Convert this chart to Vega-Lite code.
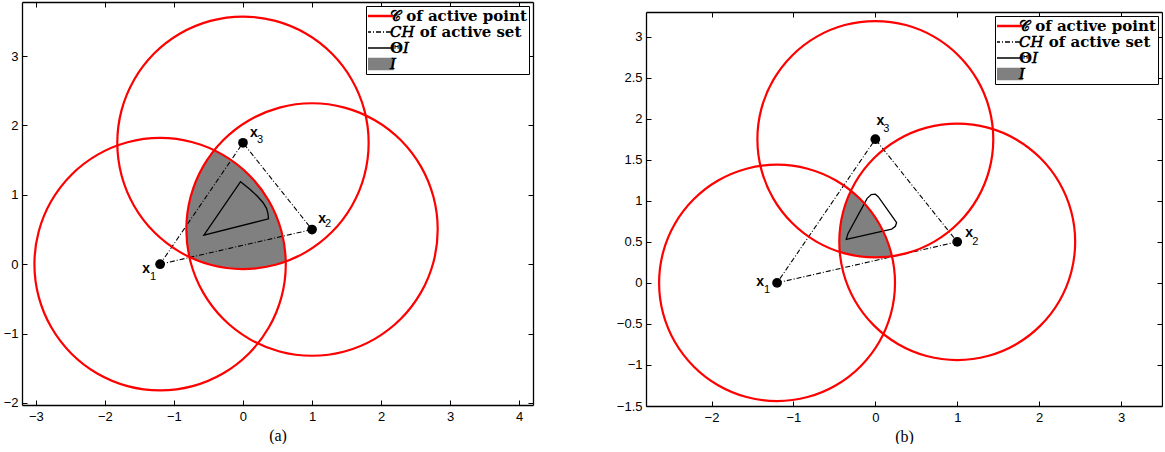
{
"$schema":"https://vega.github.io/schema/vega-lite/v6.json",
"background":"white",
"padding":{"left":3,"top":1,"right":0,"bottom":0},
"spacing":82,
"datasets":{
"pts":[{"n":1,"x":-1.2,"y":0},{"n":2,"x":1,"y":0.5},{"n":3,"x":0,"y":1.75}],
"circA":[
{"c":1,"i":0,"x":0.62,"y":0},{"c":1,"i":1,"x":0.558,"y":0.471},{"c":1,"i":2,"x":0.376,"y":0.91},{"c":1,"i":3,"x":0.087,"y":1.287},{"c":1,"i":4,"x":-0.29,"y":1.576},{"c":1,"i":5,"x":-0.729,"y":1.758},{"c":1,"i":6,"x":-1.2,"y":1.82},{"c":1,"i":7,"x":-1.671,"y":1.758},{"c":1,"i":8,"x":-2.11,"y":1.576},{"c":1,"i":9,"x":-2.487,"y":1.287},{"c":1,"i":10,"x":-2.776,"y":0.91},{"c":1,"i":11,"x":-2.958,"y":0.471},{"c":1,"i":12,"x":-3.02,"y":0},{"c":1,"i":13,"x":-2.958,"y":-0.471},{"c":1,"i":14,"x":-2.776,"y":-0.91},{"c":1,"i":15,"x":-2.487,"y":-1.287},{"c":1,"i":16,"x":-2.11,"y":-1.576},{"c":1,"i":17,"x":-1.671,"y":-1.758},{"c":1,"i":18,"x":-1.2,"y":-1.82},{"c":1,"i":19,"x":-0.729,"y":-1.758},{"c":1,"i":20,"x":-0.29,"y":-1.576},{"c":1,"i":21,"x":0.087,"y":-1.287},{"c":1,"i":22,"x":0.376,"y":-0.91},{"c":1,"i":23,"x":0.558,"y":-0.471},
{"c":2,"i":0,"x":2.82,"y":0.5},{"c":2,"i":1,"x":2.758,"y":0.971},{"c":2,"i":2,"x":2.576,"y":1.41},{"c":2,"i":3,"x":2.287,"y":1.787},{"c":2,"i":4,"x":1.91,"y":2.076},{"c":2,"i":5,"x":1.471,"y":2.258},{"c":2,"i":6,"x":1,"y":2.32},{"c":2,"i":7,"x":0.529,"y":2.258},{"c":2,"i":8,"x":0.09,"y":2.076},{"c":2,"i":9,"x":-0.287,"y":1.787},{"c":2,"i":10,"x":-0.576,"y":1.41},{"c":2,"i":11,"x":-0.758,"y":0.971},{"c":2,"i":12,"x":-0.82,"y":0.5},{"c":2,"i":13,"x":-0.758,"y":0.029},{"c":2,"i":14,"x":-0.576,"y":-0.41},{"c":2,"i":15,"x":-0.287,"y":-0.787},{"c":2,"i":16,"x":0.09,"y":-1.076},{"c":2,"i":17,"x":0.529,"y":-1.258},{"c":2,"i":18,"x":1,"y":-1.32},{"c":2,"i":19,"x":1.471,"y":-1.258},{"c":2,"i":20,"x":1.91,"y":-1.076},{"c":2,"i":21,"x":2.287,"y":-0.787},{"c":2,"i":22,"x":2.576,"y":-0.41},{"c":2,"i":23,"x":2.758,"y":0.029},
{"c":3,"i":0,"x":1.82,"y":1.75},{"c":3,"i":1,"x":1.758,"y":2.221},{"c":3,"i":2,"x":1.576,"y":2.66},{"c":3,"i":3,"x":1.287,"y":3.037},{"c":3,"i":4,"x":0.91,"y":3.326},{"c":3,"i":5,"x":0.471,"y":3.508},{"c":3,"i":6,"x":0,"y":3.57},{"c":3,"i":7,"x":-0.471,"y":3.508},{"c":3,"i":8,"x":-0.91,"y":3.326},{"c":3,"i":9,"x":-1.287,"y":3.037},{"c":3,"i":10,"x":-1.576,"y":2.66},{"c":3,"i":11,"x":-1.758,"y":2.221},{"c":3,"i":12,"x":-1.82,"y":1.75},{"c":3,"i":13,"x":-1.758,"y":1.279},{"c":3,"i":14,"x":-1.576,"y":0.84},{"c":3,"i":15,"x":-1.287,"y":0.463},{"c":3,"i":16,"x":-0.91,"y":0.174},{"c":3,"i":17,"x":-0.471,"y":-0.008},{"c":3,"i":18,"x":0,"y":-0.07},{"c":3,"i":19,"x":0.471,"y":-0.008},{"c":3,"i":20,"x":0.91,"y":0.174},{"c":3,"i":21,"x":1.287,"y":0.463},{"c":3,"i":22,"x":1.576,"y":0.84},{"c":3,"i":23,"x":1.758,"y":1.279}],
"circB":[
{"c":1,"i":0,"x":0.24,"y":0},{"c":1,"i":1,"x":0.191,"y":0.373},{"c":1,"i":2,"x":0.047,"y":0.72},{"c":1,"i":3,"x":-0.182,"y":1.018},{"c":1,"i":4,"x":-0.48,"y":1.247},{"c":1,"i":5,"x":-0.827,"y":1.391},{"c":1,"i":6,"x":-1.2,"y":1.44},{"c":1,"i":7,"x":-1.573,"y":1.391},{"c":1,"i":8,"x":-1.92,"y":1.247},{"c":1,"i":9,"x":-2.218,"y":1.018},{"c":1,"i":10,"x":-2.447,"y":0.72},{"c":1,"i":11,"x":-2.591,"y":0.373},{"c":1,"i":12,"x":-2.64,"y":0},{"c":1,"i":13,"x":-2.591,"y":-0.373},{"c":1,"i":14,"x":-2.447,"y":-0.72},{"c":1,"i":15,"x":-2.218,"y":-1.018},{"c":1,"i":16,"x":-1.92,"y":-1.247},{"c":1,"i":17,"x":-1.573,"y":-1.391},{"c":1,"i":18,"x":-1.2,"y":-1.44},{"c":1,"i":19,"x":-0.827,"y":-1.391},{"c":1,"i":20,"x":-0.48,"y":-1.247},{"c":1,"i":21,"x":-0.182,"y":-1.018},{"c":1,"i":22,"x":0.047,"y":-0.72},{"c":1,"i":23,"x":0.191,"y":-0.373},
{"c":2,"i":0,"x":2.44,"y":0.5},{"c":2,"i":1,"x":2.391,"y":0.873},{"c":2,"i":2,"x":2.247,"y":1.22},{"c":2,"i":3,"x":2.018,"y":1.518},{"c":2,"i":4,"x":1.72,"y":1.747},{"c":2,"i":5,"x":1.373,"y":1.891},{"c":2,"i":6,"x":1,"y":1.94},{"c":2,"i":7,"x":0.627,"y":1.891},{"c":2,"i":8,"x":0.28,"y":1.747},{"c":2,"i":9,"x":-0.018,"y":1.518},{"c":2,"i":10,"x":-0.247,"y":1.22},{"c":2,"i":11,"x":-0.391,"y":0.873},{"c":2,"i":12,"x":-0.44,"y":0.5},{"c":2,"i":13,"x":-0.391,"y":0.127},{"c":2,"i":14,"x":-0.247,"y":-0.22},{"c":2,"i":15,"x":-0.018,"y":-0.518},{"c":2,"i":16,"x":0.28,"y":-0.747},{"c":2,"i":17,"x":0.627,"y":-0.891},{"c":2,"i":18,"x":1,"y":-0.94},{"c":2,"i":19,"x":1.373,"y":-0.891},{"c":2,"i":20,"x":1.72,"y":-0.747},{"c":2,"i":21,"x":2.018,"y":-0.518},{"c":2,"i":22,"x":2.247,"y":-0.22},{"c":2,"i":23,"x":2.391,"y":0.127},
{"c":3,"i":0,"x":1.44,"y":1.75},{"c":3,"i":1,"x":1.391,"y":2.123},{"c":3,"i":2,"x":1.247,"y":2.47},{"c":3,"i":3,"x":1.018,"y":2.768},{"c":3,"i":4,"x":0.72,"y":2.997},{"c":3,"i":5,"x":0.373,"y":3.141},{"c":3,"i":6,"x":0,"y":3.19},{"c":3,"i":7,"x":-0.373,"y":3.141},{"c":3,"i":8,"x":-0.72,"y":2.997},{"c":3,"i":9,"x":-1.018,"y":2.768},{"c":3,"i":10,"x":-1.247,"y":2.47},{"c":3,"i":11,"x":-1.391,"y":2.123},{"c":3,"i":12,"x":-1.44,"y":1.75},{"c":3,"i":13,"x":-1.391,"y":1.377},{"c":3,"i":14,"x":-1.247,"y":1.03},{"c":3,"i":15,"x":-1.018,"y":0.732},{"c":3,"i":16,"x":-0.72,"y":0.503},{"c":3,"i":17,"x":-0.373,"y":0.359},{"c":3,"i":18,"x":0,"y":0.31},{"c":3,"i":19,"x":0.373,"y":0.359},{"c":3,"i":20,"x":0.72,"y":0.503},{"c":3,"i":21,"x":1.018,"y":0.732},{"c":3,"i":22,"x":1.247,"y":1.03},{"c":3,"i":23,"x":1.391,"y":1.377}],
"regA":[{"i":0,"x":-0.776,"y":0.104},{"i":1,"x":-0.792,"y":0.184},{"i":2,"x":-0.82,"y":0.5},{"i":3,"x":-0.792,"y":0.816},{"i":4,"x":-0.71,"y":1.123},{"i":5,"x":-0.576,"y":1.41},{"i":6,"x":-0.417,"y":1.643},{"i":7,"x":-0.29,"y":1.576},{"i":8,"x":-0.03,"y":1.394},{"i":9,"x":0.194,"y":1.17},{"i":10,"x":0.376,"y":0.91},{"i":11,"x":0.51,"y":0.623},{"i":12,"x":0.592,"y":0.316},{"i":13,"x":0.62,"y":0.039},{"i":14,"x":0.316,"y":-0.042},{"i":15,"x":0,"y":-0.07},{"i":16,"x":-0.316,"y":-0.042},{"i":17,"x":-0.623,"y":0.04}],
"regB":[{"i":0,"x":-0.435,"y":0.377},{"i":1,"x":-0.44,"y":0.5},{"i":2,"x":-0.418,"y":0.75},{"i":3,"x":-0.353,"y":0.993},{"i":4,"x":-0.298,"y":1.123},{"i":5,"x":-0.182,"y":1.018},{"i":6,"x":-0.02,"y":0.826},{"i":7,"x":0.105,"y":0.609},{"i":8,"x":0.191,"y":0.373},{"i":9,"x":0.203,"y":0.324},{"i":10,"x":0.1,"y":0.313},{"i":11,"x":0,"y":0.31},{"i":12,"x":-0.25,"y":0.332}],
"thA":[{"i":0,"x":-0.035,"y":1.19},{"i":1,"x":0.1,"y":1.08},{"i":2,"x":0.206,"y":0.983},{"i":3,"x":0.292,"y":0.886},{"i":4,"x":0.341,"y":0.805},{"i":5,"x":0.362,"y":0.73},{"i":6,"x":0.37,"y":0.654},{"i":7,"x":-0.566,"y":0.418}],
"thB":[{"i":0,"x":-0.355,"y":0.53},{"i":1,"x":-0.335,"y":0.6},{"i":2,"x":-0.1,"y":1.03},{"i":3,"x":-0.05,"y":1.075},{"i":4,"x":0,"y":1.08},{"i":5,"x":0.035,"y":1.05},{"i":6,"x":0.26,"y":0.735},{"i":7,"x":0.245,"y":0.69},{"i":8,"x":0.2,"y":0.655}]
},
"hconcat":[
{
"width":511,"height":403,
"layer":[
{"data":{"name":"regA"},"mark":{"type":"line","interpolate":"linear-closed","filled":true,"strokeWidth":0},
 "encoding":{"x":{"field":"x","type":"quantitative","scale":{"domain":[-3.2,4.2],"nice":false,"zero":false},"axis":null},"y":{"field":"y","type":"quantitative","scale":{"domain":[-2.03,3.78],"nice":false,"zero":false},"axis":null},"order":{"field":"i"},"color":{"datum":"𝐼"}}},
{"data":{"name":"thA"},"mark":{"type":"line","interpolate":"linear-closed","strokeWidth":1.3},
 "encoding":{"x":{"field":"x","type":"quantitative","axis":null},"y":{"field":"y","type":"quantitative","axis":null},"order":{"field":"i"},"color":{"datum":"Θ𝐼"}}},
{"data":{"name":"pts"},"mark":{"type":"line","interpolate":"linear-closed","strokeWidth":1.1,"strokeDash":[5,2,1,2]},
 "encoding":{"x":{"field":"x","type":"quantitative","axis":{"orient":"top","values":[-3,-2,-1,0,1,2,3,4],"labels":false,"title":null}},"y":{"field":"y","type":"quantitative","axis":{"orient":"right","values":[-2,-1,0,1,2,3],"labels":false,"title":null}},"order":{"field":"n"},"color":{"datum":"𝐶𝐻 of active set"}}},
{"data":{"name":"circA"},"mark":{"type":"line","interpolate":"cardinal-closed","strokeWidth":2.2},
 "encoding":{"x":{"field":"x","type":"quantitative","axis":{"orient":"bottom","values":[-3,-2,-1,0,1,2,3,4],"format":"~g","title":"(a)"}},"y":{"field":"y","type":"quantitative","axis":{"orient":"left","values":[-2,-1,0,1,2,3],"format":"~g","title":null}},"detail":{"field":"c"},"order":{"field":"i"},
 "color":{"datum":"𝒞 of active point","scale":{"domain":["𝒞 of active point","𝐶𝐻 of active set","Θ𝐼","𝐼"],"range":["#ff0000","#000000","#000000","#808080"]},
  "legend":{"title":null,"encode":{"symbols":{"update":{
   "shape":{"signal":"datum.index === 3 ? 'M-1,-0.42H1V0.42H-1Z' : 'stroke'"},
   "stroke":{"signal":"datum.index === 0 ? '#ff0000' : (datum.index === 3 ? 'transparent' : '#000000')"},
   "fill":{"signal":"datum.index === 3 ? '#808080' : 'transparent'"},
   "strokeDash":{"signal":"datum.index === 1 ? [5,2,1,2] : [1,0]"},
   "strokeWidth":{"signal":"datum.index === 0 ? 2.5 : 1.4"},
   "opacity":{"value":1}}}}}}}},
{"data":{"name":"pts"},"mark":{"type":"point","shape":"circle","filled":true,"color":"#000","opacity":1,"size":95},
 "encoding":{"x":{"field":"x","type":"quantitative","axis":null},"y":{"field":"y","type":"quantitative","axis":null}}},
{"data":{"name":"pts"},"transform":[{"filter":"datum.n == 1"}],"mark":{"type":"text","text":"x","font":"Liberation Sans","fontWeight":"bold","fontSize":14,"align":"center","baseline":"middle","dx":-14,"dy":5},"encoding":{"x":{"field":"x","type":"quantitative","axis":null},"y":{"field":"y","type":"quantitative","axis":null}}},
{"data":{"name":"pts"},"transform":[{"filter":"datum.n == 1"}],"mark":{"type":"text","text":"1","font":"Liberation Sans","fontSize":11,"align":"center","baseline":"middle","dx":-7,"dy":13},"encoding":{"x":{"field":"x","type":"quantitative","axis":null},"y":{"field":"y","type":"quantitative","axis":null}}},
{"data":{"name":"pts"},"transform":[{"filter":"datum.n == 2"}],"mark":{"type":"text","text":"x","font":"Liberation Sans","fontWeight":"bold","fontSize":14,"align":"center","baseline":"middle","dx":10,"dy":-11},"encoding":{"x":{"field":"x","type":"quantitative","axis":null},"y":{"field":"y","type":"quantitative","axis":null}}},
{"data":{"name":"pts"},"transform":[{"filter":"datum.n == 2"}],"mark":{"type":"text","text":"2","font":"Liberation Sans","fontSize":11,"align":"center","baseline":"middle","dx":16,"dy":-6},"encoding":{"x":{"field":"x","type":"quantitative","axis":null},"y":{"field":"y","type":"quantitative","axis":null}}},
{"data":{"name":"pts"},"transform":[{"filter":"datum.n == 3"}],"mark":{"type":"text","text":"x","font":"Liberation Sans","fontWeight":"bold","fontSize":14,"align":"center","baseline":"middle","dx":11,"dy":-10},"encoding":{"x":{"field":"x","type":"quantitative","axis":null},"y":{"field":"y","type":"quantitative","axis":null}}},
{"data":{"name":"pts"},"transform":[{"filter":"datum.n == 3"}],"mark":{"type":"text","text":"3","font":"Liberation Sans","fontSize":11,"align":"center","baseline":"middle","dx":17,"dy":-3},"encoding":{"x":{"field":"x","type":"quantitative","axis":null},"y":{"field":"y","type":"quantitative","axis":null}}}
],
"resolve":{"axis":{"x":"independent","y":"independent"}}
},
{
"spacing":0,
"vconcat":[
{"width":516,"height":9,"data":{"values":[{"v":0}]},"mark":{"type":"point","opacity":0},"encoding":{}},
{
"width":516,"height":394,
"layer":[
{"data":{"name":"regB"},"mark":{"type":"line","interpolate":"linear-closed","filled":true,"strokeWidth":0},
 "encoding":{"x":{"field":"x","type":"quantitative","scale":{"domain":[-2.8,3.5],"nice":false,"zero":false},"axis":null},"y":{"field":"y","type":"quantitative","scale":{"domain":[-1.5,3.3],"nice":false,"zero":false},"axis":null},"order":{"field":"i"},"color":{"datum":"𝐼"}}},
{"data":{"name":"thB"},"mark":{"type":"line","interpolate":"linear-closed","strokeWidth":1.3},
 "encoding":{"x":{"field":"x","type":"quantitative","axis":null},"y":{"field":"y","type":"quantitative","axis":null},"order":{"field":"i"},"color":{"datum":"Θ𝐼"}}},
{"data":{"name":"pts"},"mark":{"type":"line","interpolate":"linear-closed","strokeWidth":1.1,"strokeDash":[5,2,1,2]},
 "encoding":{"x":{"field":"x","type":"quantitative","axis":{"orient":"top","values":[-2,-1,0,1,2,3],"labels":false,"title":null}},"y":{"field":"y","type":"quantitative","axis":{"orient":"right","values":[-1.5,-1,-0.5,0,0.5,1,1.5,2,2.5,3],"labels":false,"title":null}},"order":{"field":"n"},"color":{"datum":"𝐶𝐻 of active set"}}},
{"data":{"name":"circB"},"mark":{"type":"line","interpolate":"cardinal-closed","strokeWidth":2.2},
 "encoding":{"x":{"field":"x","type":"quantitative","axis":{"orient":"bottom","values":[-2,-1,0,1,2,3],"format":"~g","title":"(b)"}},"y":{"field":"y","type":"quantitative","axis":{"orient":"left","values":[-1.5,-1,-0.5,0,0.5,1,1.5,2,2.5,3],"format":"~g","title":null}},"detail":{"field":"c"},"order":{"field":"i"},
 "color":{"datum":"𝒞 of active point","scale":{"domain":["𝒞 of active point","𝐶𝐻 of active set","Θ𝐼","𝐼"],"range":["#ff0000","#000000","#000000","#808080"]},
  "legend":{"title":null,"encode":{"symbols":{"update":{
   "shape":{"signal":"datum.index === 3 ? 'M-1,-0.42H1V0.42H-1Z' : 'stroke'"},
   "stroke":{"signal":"datum.index === 0 ? '#ff0000' : (datum.index === 3 ? 'transparent' : '#000000')"},
   "fill":{"signal":"datum.index === 3 ? '#808080' : 'transparent'"},
   "strokeDash":{"signal":"datum.index === 1 ? [5,2,1,2] : [1,0]"},
   "strokeWidth":{"signal":"datum.index === 0 ? 2.5 : 1.4"},
   "opacity":{"value":1}}}}}}}},
{"data":{"name":"pts"},"mark":{"type":"point","shape":"circle","filled":true,"color":"#000","opacity":1,"size":95},
 "encoding":{"x":{"field":"x","type":"quantitative","axis":null},"y":{"field":"y","type":"quantitative","axis":null}}},
{"data":{"name":"pts"},"transform":[{"filter":"datum.n == 1"}],"mark":{"type":"text","text":"x","font":"Liberation Sans","fontWeight":"bold","fontSize":14,"align":"center","baseline":"middle","dx":-17,"dy":-1},"encoding":{"x":{"field":"x","type":"quantitative","axis":null},"y":{"field":"y","type":"quantitative","axis":null}}},
{"data":{"name":"pts"},"transform":[{"filter":"datum.n == 1"}],"mark":{"type":"text","text":"1","font":"Liberation Sans","fontSize":11,"align":"center","baseline":"middle","dx":-10,"dy":7},"encoding":{"x":{"field":"x","type":"quantitative","axis":null},"y":{"field":"y","type":"quantitative","axis":null}}},
{"data":{"name":"pts"},"transform":[{"filter":"datum.n == 2"}],"mark":{"type":"text","text":"x","font":"Liberation Sans","fontWeight":"bold","fontSize":14,"align":"center","baseline":"middle","dx":12,"dy":-9},"encoding":{"x":{"field":"x","type":"quantitative","axis":null},"y":{"field":"y","type":"quantitative","axis":null}}},
{"data":{"name":"pts"},"transform":[{"filter":"datum.n == 2"}],"mark":{"type":"text","text":"2","font":"Liberation Sans","fontSize":11,"align":"center","baseline":"middle","dx":18,"dy":0},"encoding":{"x":{"field":"x","type":"quantitative","axis":null},"y":{"field":"y","type":"quantitative","axis":null}}},
{"data":{"name":"pts"},"transform":[{"filter":"datum.n == 3"}],"mark":{"type":"text","text":"x","font":"Liberation Sans","fontWeight":"bold","fontSize":14,"align":"center","baseline":"middle","dx":5,"dy":-18},"encoding":{"x":{"field":"x","type":"quantitative","axis":null},"y":{"field":"y","type":"quantitative","axis":null}}},
{"data":{"name":"pts"},"transform":[{"filter":"datum.n == 3"}],"mark":{"type":"text","text":"3","font":"Liberation Sans","fontSize":11,"align":"center","baseline":"middle","dx":11,"dy":-10},"encoding":{"x":{"field":"x","type":"quantitative","axis":null},"y":{"field":"y","type":"quantitative","axis":null}}}
],
"resolve":{"axis":{"x":"independent","y":"independent"}}
}
],
"resolve":{"scale":{"color":"independent"},"legend":{"color":"independent"}}
}
],
"resolve":{"scale":{"color":"independent"},"legend":{"color":"independent"}},
"config":{
"view":{"stroke":null},
"axis":{"domainColor":"#000","domainWidth":1.3,"tickColor":"#000","tickWidth":1,"tickSize":-5,"labelColor":"#000","labelFont":"Liberation Sans","labelFontSize":13,"grid":false,"labelOverlap":false,"labelBound":false,"labelFlush":false,"titleFont":"Liberation Serif","titleFontSize":16,"titleFontWeight":"normal","titleColor":"#000"},
"axisX":{"labelPadding":10,"titlePadding":4},
"axisY":{"labelPadding":9},
"legend":{"orient":"top-right","offset":4,"strokeColor":"#000","fillColor":"#fff","padding":2,"labelFont":"DejaVu Serif","labelFontSize":15,"labelFontWeight":"bold","labelColor":"#000","symbolSize":729,"clipHeight":16,"rowPadding":0,"labelOffset":3,"symbolOffset":4}
}
}
